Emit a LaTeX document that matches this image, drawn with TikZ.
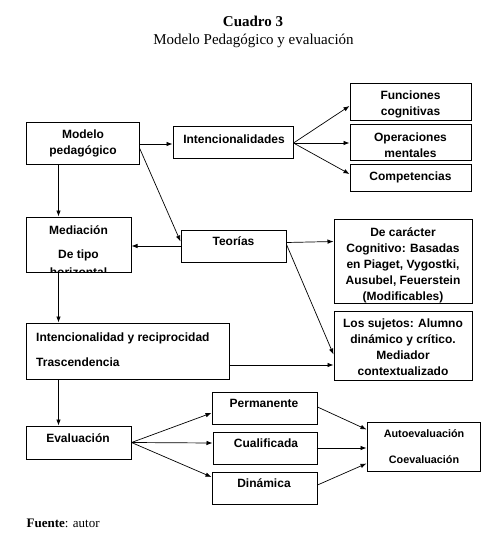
\documentclass[tikz,border=0pt]{standalone}
\usepackage{fontspec}
\setmainfont{Liberation Serif}
\setsansfont{Liberation Sans}
\usetikzlibrary{arrows.meta,calc}
\begin{document}
\begin{tikzpicture}[x=1pt,y=-1pt,
  box/.style={draw, line width=1pt, inner sep=0pt, rectangle},
  tx/.style={font=\sffamily\bfseries\fontsize{12}{16}\selectfont, inner sep=0pt, align=center, anchor=north, execute at begin node=\strut},
  txs/.style={tx, font=\sffamily\bfseries\fontsize{10.8}{16}\selectfont},
  con/.style={line width=0.7pt, -{Latex[length=6pt,width=4.5pt]}}
]
\useasboundingbox (0,0) rectangle (497,540);

% title
\node[font=\bfseries\fontsize{15}{18}\selectfont, anchor=base] (title) at (253,26.5) {Cuadro 3};
\node[font=\fontsize{15}{18}\selectfont, anchor=base] (subtitle) at (253.5,45) {Modelo Pedagógico y evaluación};

% boxes
\node[box, minimum width=113pt, minimum height=42pt] (mod) at (82.5,144) {};
\node[box, minimum width=120pt, minimum height=32pt] (int) at (233,143) {};
\node[box, minimum width=121pt, minimum height=37pt] (fc) at (410.5,102.5) {};
\node[box, minimum width=121pt, minimum height=36pt] (om) at (410.5,143) {};
\node[box, minimum width=121pt, minimum height=26pt] (comp) at (410.5,178) {};
\node[box, minimum width=105pt, minimum height=55pt] (med) at (78.5,244.5) {};
\node[box, minimum width=105pt, minimum height=32pt] (teo) at (233.5,246) {};
\node[box, minimum width=138pt, minimum height=84pt] (dc) at (403,261) {};
\node[box, minimum width=138pt, minimum height=69pt] (ls) at (403,345.5) {};
\node[box, minimum width=203pt, minimum height=56pt] (iyr) at (127.5,351) {};
\node[box, minimum width=105pt, minimum height=33pt] (eva) at (78.5,442.5) {};
\node[box, minimum width=105pt, minimum height=32pt] (per) at (264.5,408) {};
\node[box, minimum width=104pt, minimum height=32pt] (cua) at (265,448) {};
\node[box, minimum width=105pt, minimum height=32pt] (din) at (264.5,488) {};
\node[box, minimum width=113pt, minimum height=49pt] (auto) at (423.5,446.5) {};

% texts
\node[tx] (t-mod) at (83,129.8) {Modelo\\pedagógico};
\node[tx] (t-int) at (234,132.1) {Intencionalidades};
\node[tx] (t-fc) at (410.5,90.3) {Funciones\\cognitivas};
\node[tx] (t-om) at (410.5,132.3) {Operaciones\\mentales};
\node[tx] (t-comp) at (410.5,169.3) {Competencias};
\begin{scope}
  \clip (med.north west) rectangle ($(med.south east)+(0,-0.5)$);
  \node[tx] (t-med) at (78.5,225.8) {Mediación\\[8pt]De tipo\\[1.5pt]horizontal};
\end{scope}
\node[tx] (t-teo) at (233.5,234.3) {Teorías};
\node[tx] (t-dc) at (403,227.5) {De carácter\\Cognitivo: Basadas\\en Piaget, Vygostki,\\Ausubel, Feuerstein\\(Modificables)};
\node[tx] (t-ls) at (403,319.1) {Los sujetos: Alumno\\dinámico y crítico.\\Mediador\\contextualizado};
\node[tx, anchor=north west, align=left] (t-iyr) at (36,332.8) {Intencionalidad y reciprocidad\\[9.3pt]Trascendencia};
\node[tx] (t-eva) at (78,431.1) {Evaluación};
\node[tx] (t-per) at (264,396.1) {Permanente};
\node[tx] (t-cua) at (266,436.1) {Cualificada};
\node[tx] (t-din) at (264,476.1) {Dinámica};
\node[txs] (t-auto) at (424,429.1) {Autoevaluación\\[10pt]Coevaluación};

% source
\node[anchor=base west, font=\fontsize{13}{15}\selectfont, inner sep=0pt] (src) at (26.5,527) {\textbf{Fuente}: autor};

% connectors
\draw[con] (mod.east) -- (mod.east -| int.west);
\draw[con] ($(mod.east)+(0,4)$) -- ($(teo.north west)+(0,12)$);
\draw[con] ($(mod.south west)+(33,0)$) -- ($(med.north west)+(33,0)$);
\draw[con] (int.east) -- ($(fc.west)+(0,3.5)$);
\draw[con] (int.east) -- (int.east -| om.west);
\draw[con] (int.east) -- ($(comp.west)+(0,-4)$);
\draw[con] (teo.west) -- (teo.west -| med.east);
\draw[con] ($(teo.north east)+(0,13)$) -- ($(dc.north west)+(0,23)$);
\draw[con] ($(teo.north east)+(0,15)$) -- ($(ls.north west)+(0,44)$);
\draw[con] ($(med.south west)+(33,0)$) -- ($(iyr.north west)+(33,0)$);
\coordinate (a) at ($(iyr.east)+(0,14)$);
\draw[con] (a) -- (a -| ls.west);
\draw[con] ($(iyr.south west)+(33,0)$) -- ($(eva.north west)+(33,0)$);
\draw[con] (eva.east) -- ($(per.west)+(0,5)$);
\draw[con] (eva.east) -- ($(cua.west)+(0,-5)$);
\draw[con] (eva.east) -- ($(din.west)+(0,-11)$);
\draw[con] ($(per.east)+(0,-1)$) -- ($(auto.north west)+(0,8)$);
\draw[con] ($(cua.east)+(-1,0)$) -- (cua.east -| auto.west);
\draw[con] ($(din.east)+(0,-3)$) -- ($(auto.south west)+(0,-8)$);
\end{tikzpicture}
\end{document}
